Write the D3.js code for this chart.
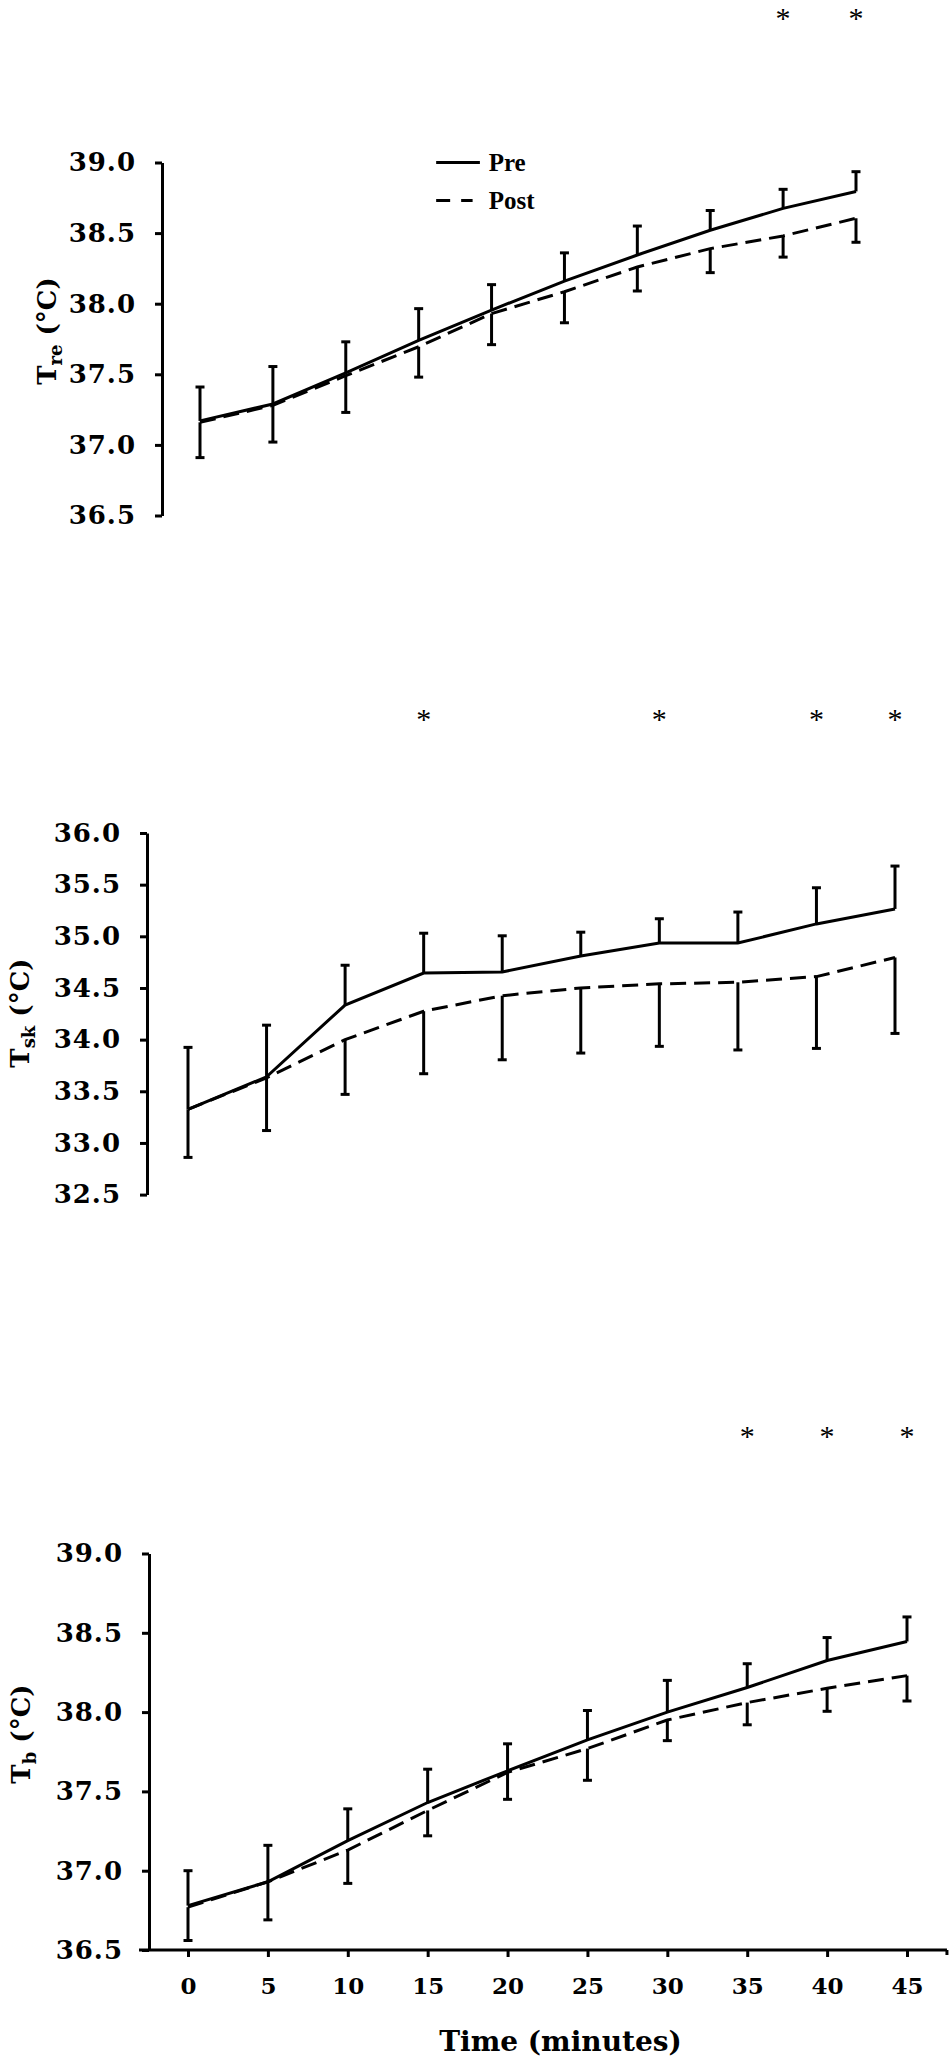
<!DOCTYPE html>
<html>
<head>
<meta charset="utf-8">
<script src="https://cdn.jsdelivr.net/npm/d3@7"></script>
<style>
  body { margin: 0; background: #fff; }
  svg { display: block; }
  .tick line, .domain { stroke: #000; stroke-width: 3; }
  .tick text { font-family: "DejaVu Serif", serif; font-weight: bold; fill: #000; }
</style>
</head>
<body>
<svg id="canvas" width="950" height="2057"></svg>
<script>
// time points (minutes)
let times = [0, 5, 10, 15, 20, 25, 30, 35, 40, 45];

// rectal temperature
let trePre       = [37.17, 37.29, 37.51, 37.74, 37.955, 38.16, 38.345, 38.52, 38.675, 38.795];
let trePreUpper  = [37.41, 37.555, 37.73, 37.965, 38.135, 38.36, 38.55, 38.66, 38.81, 38.935];
let trePost      = [37.16, 37.28, 37.49, 37.695, 37.93, 38.085, 38.26, 38.39, 38.48, 38.605];
let trePostLower = [36.91, 37.02, 37.23, 37.48, 37.71, 37.865, 38.09, 38.22, 38.33, 38.435];
let treStars     = [40, 45];

// skin temperature
let tskPre       = [33.325, 33.64, 34.335, 34.645, 34.655, 34.81, 34.935, 34.935, 35.12, 35.265];
let tskPreUpper  = [33.925, 34.14, 34.72, 35.03, 35.005, 35.04, 35.17, 35.235, 35.47, 35.68];
let tskPost      = [33.325, 33.63, 34.0, 34.275, 34.425, 34.5, 34.54, 34.555, 34.61, 34.795];
let tskPostLower = [32.86, 33.12, 33.47, 33.67, 33.805, 33.87, 33.935, 33.9, 33.915, 34.06];
let tskStars     = [15, 30, 40, 45];

// body temperature
let tbPre        = [36.78, 36.93, 37.19, 37.43, 37.63, 37.825, 38.0, 38.155, 38.325, 38.445];
let tbPreUpper   = [37.0, 37.16, 37.39, 37.64, 37.8, 38.01, 38.2, 38.305, 38.47, 38.6];
let tbPost       = [36.77, 36.93, 37.13, 37.38, 37.62, 37.77, 37.95, 38.06, 38.15, 38.23];
let tbPostLower  = [36.56, 36.69, 36.92, 37.22, 37.45, 37.57, 37.82, 37.92, 38.005, 38.07];
let tbStars      = [35, 40, 45];

let treTicks = [36.5, 37.0, 37.5, 38.0, 38.5, 39.0];
let tskTicks = [32.5, 33.0, 33.5, 34.0, 34.5, 35.0, 35.5, 36.0];
let tbTicks  = [36.5, 37.0, 37.5, 38.0, 38.5, 39.0];

let canvas = d3.select('#canvas');

let panels = [
    {pre: trePre, preUp: trePreUpper, post: trePost, postLo: trePostLower, stars: treStars,
     ticks: treTicks, sub: 're', axisX: 162, xr: [200, 856], yr: [515.5, 162.5],
     starY: 13, label: [47, 331], legend: true, xAxis: false},
    {pre: tskPre, preUp: tskPreUpper, post: tskPost, postLo: tskPostLower, stars: tskStars,
     ticks: tskTicks, sub: 'sk', axisX: 147, xr: [188, 895], yr: [1194.6, 833],
     starY: 714, label: [20, 1013], legend: false, xAxis: false},
    {pre: tbPre, preUp: tbPreUpper, post: tbPost, postLo: tbPostLower, stars: tbStars,
     ticks: tbTicks, sub: 'b', axisX: 149, xr: [188, 907], yr: [1950, 1553.5],
     starY: 1431, label: [21, 1734], legend: false, xAxis: true}
];

let drawPanel = (p) => {
    let x = d3.scaleLinear().domain([0, 45]).range(p.xr);
    let y = d3.scaleLinear().domain([p.ticks[0], p.ticks[p.ticks.length - 1]]).range(p.yr);
    let g = canvas.append('g');

    // y axis
    let yAxis = d3.axisLeft(y)
                  .tickValues(p.ticks)
                  .tickFormat(d3.format('.1f'))
                  .tickSize(7)
                  .tickSizeOuter(0)
                  .tickPadding(19);
    g.append('g')
        .attr('transform', 'translate(' + p.axisX + ',0)')
        .call(yAxis)
        .selectAll('text')
        .style('font-size', '26px')
        .style('letter-spacing', '1px');

    // x axis only on the bottom panel
    if (p.xAxis) {
        let xAxis = d3.axisBottom(x)
                      .tickValues(times)
                      .tickFormat(d3.format('d'))
                      .tickSize(7)
                      .tickSizeOuter(0)
                      .tickPadding(21);
        let ax = g.append('g')
            .attr('transform', 'translate(0,' + y(p.ticks[0]) + ')')
            .call(xAxis);
        ax.select('.domain').remove();
        ax.selectAll('text').style('font-size', '23px');
        ax.append('line')
            .attr('x1', p.axisX - 10)
            .attr('x2', x(47.5))
            .attr('stroke', '#000')
            .attr('stroke-width', 3);
        ax.append('line')
            .attr('x1', x(47.5)).attr('x2', x(47.5))
            .attr('y1', 0).attr('y2', 5)
            .attr('stroke', '#000')
            .attr('stroke-width', 3);

        canvas.append('text')
            .text('Time (minutes)')
            .attr('x', (x(0) + x(45)) / 2 + 13)
            .attr('y', 2051)
            .attr('text-anchor', 'middle')
            .style('font-family', '"DejaVu Serif", serif')
            .style('font-weight', 'bold')
            .style('font-size', '28px');
    }

    // y label
    let lab = canvas.append('text')
        .attr('transform', 'translate(' + (p.label[0] + 9) + ',' + p.label[1] + ') rotate(-90)')
        .attr('text-anchor', 'middle')
        .style('font-family', '"DejaVu Serif", serif')
        .style('font-weight', 'bold')
        .style('font-size', '26px');
    lab.append('tspan').text('T');
    lab.append('tspan').text(p.sub).attr('dy', 6).style('font-size', '18px');
    lab.append('tspan').text(' (\u00B0C)').attr('dy', -6);

    let pts = (arr) => arr.map((v, i) => [x(times[i]), y(v)]);
    let line = d3.line();

    g.append('path')
        .attr('d', line(pts(p.post)))
        .attr('fill', 'none')
        .attr('stroke', '#000')
        .attr('stroke-width', 3)
        .attr('stroke-dasharray', '16,8');

    g.append('path')
        .attr('d', line(pts(p.pre)))
        .attr('fill', 'none')
        .attr('stroke', '#000')
        .attr('stroke-width', 3);

    // error bars: pre goes up, post goes down
    let bars = [];
    times.forEach((t, i) => {
        bars.push({t: t, from: p.pre[i], to: p.preUp[i]});
        bars.push({t: t, from: p.post[i], to: p.postLo[i]});
    });

    let eb = g.selectAll('.err')
        .data(bars)
        .enter()
        .append('g')
        .attr('class', 'err');
    eb.append('line')
        .attr('x1', (d) => x(d.t))
        .attr('x2', (d) => x(d.t))
        .attr('y1', (d) => y(d.from))
        .attr('y2', (d) => y(d.to))
        .attr('stroke', '#000')
        .attr('stroke-width', 3);
    eb.append('line')
        .attr('x1', (d) => x(d.t) - 4.5)
        .attr('x2', (d) => x(d.t) + 4.5)
        .attr('y1', (d) => y(d.to))
        .attr('y2', (d) => y(d.to))
        .attr('stroke', '#000')
        .attr('stroke-width', 3);

    // significance stars
    g.selectAll('.star')
        .data(p.stars)
        .enter()
        .append('text')
        .attr('class', 'star')
        .text('*')
        .attr('x', (d) => x(d))
        .attr('y', p.starY + 15)
        .attr('text-anchor', 'middle')
        .style('font-family', '"Liberation Serif", serif')
        .style('font-size', '30px');

    if (p.legend) {
        let lg = [{name: 'Pre', dash: null, y: y(39.0)}, {name: 'Post', dash: '14,11', y: y(38.73)}];
        let le = g.selectAll('.leg')
            .data(lg)
            .enter()
            .append('g')
            .attr('class', 'leg');
        le.append('line')
            .attr('x1', x(16.2))
            .attr('x2', (d) => d.dash ? x(18.7) : x(19.2))
            .attr('y1', (d) => d.y)
            .attr('y2', (d) => d.y)
            .attr('stroke', '#000')
            .attr('stroke-width', 3)
            .attr('stroke-dasharray', (d) => d.dash);
        le.append('text')
            .text((d) => d.name)
            .attr('x', x(19.8))
            .attr('y', (d) => d.y + 8)
            .style('font-family', '"Liberation Serif", serif')
            .style('font-weight', 'bold')
            .style('font-size', '25px');
    }
};

panels.forEach(drawPanel);
</script>
</body>
</html>
